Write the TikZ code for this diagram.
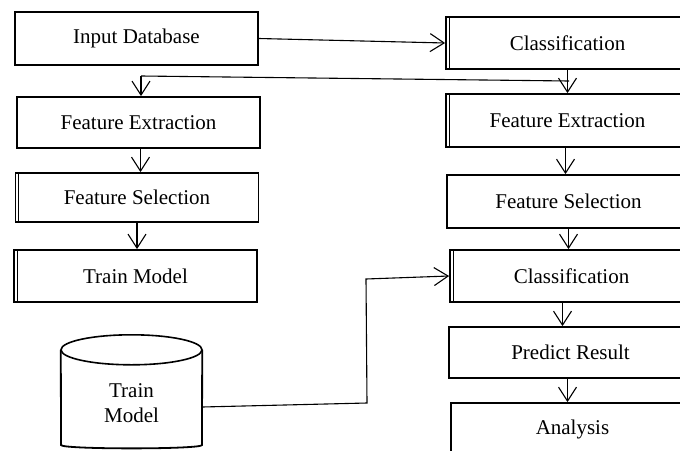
\documentclass[tikz,border=0pt]{standalone}
\usepackage{fontspec}
\setmainfont{Liberation Serif}
\usetikzlibrary{arrows.meta}
\begin{document}
\begin{tikzpicture}[x=1pt,y=-1pt,
  box/.style={draw, line width=1.8pt, fill=white, minimum width=243pt, inner sep=0pt,
    font=\fontsize{21}{25}\selectfont},
  conn/.style={line width=1.1pt},
  arr/.style={conn, -{Straight Barb[length=14pt,width=18pt,line width=1.1pt]}},
  txt/.style={font=\fontsize{21}{25}\selectfont, align=center}]
\path[use as bounding box] (0,0) rectangle (680,450);
\clip (0,0) rectangle (680,450);
% left column
\node[box, minimum height=53pt] (in)  at (136.5,38.5)  {Input Database};
\node[box, minimum height=51pt] (fe1) at (138.5,122.5) {Feature Extraction};
\node[box, minimum height=49pt] (fs1) at (137,197.5)   {Feature Selection};
\node[box, minimum height=52pt] (tm1) at (135.5,276)   {Train Model};
% right column
\node[box, minimum height=52pt] (c1)  at (567.5,43)    {Classification};
\node[box, minimum height=53pt] (fe2) at (567.5,120.5) {Feature Extraction};
\node[box, minimum height=53pt] (fs2) at (568.5,201.5) {Feature Selection};
\node[box, minimum height=52pt] (c2)  at (571.5,276)   {Classification};
\node[box, minimum height=51pt] (pr)  at (570.5,352.5) {Predict Result};
\node[box, minimum height=52pt] (an)  at (572.5,429)   {Analysis};
% inner left lines (double borders)
\foreach \n in {fs1,tm1,c1,fe2,c2} {
  \draw[line width=0.8pt] ([xshift=4pt,yshift=-1pt]\n.north west) -- ([xshift=4pt,yshift=1pt]\n.south west);
}
% database cylinder
\node[minimum width=141pt, minimum height=98pt, inner sep=0pt] (db) at (131.5,399) {};
\draw[line width=1.8pt, fill=white] (db.north west) -- (61,445) .. controls (61,449.5) and (202,449.5) .. (202,445) -- (db.north east);
\draw[line width=1.6pt, fill=white] (db.north) ellipse [x radius=70.5, y radius=15];
\node[txt] (dbt) at (131.5,403) {Train\\Model};
% connectors
\coordinate (j1) at (141,76);
\coordinate (j2) at (569,81);
\coordinate (k1) at (367,403);
\coordinate (k2) at (366,279);
\draw[arr] (in.east) -- (c1.west);
\draw[conn] (j1) -- (j2);
\draw[arr] (j1) -- (j1 |- fe1.north);
\draw[arr] (c1.south) -- (c1.south |- fe2.north);
\draw[arr] ([xshift=2pt]fe1.south) -- ([xshift=2pt]fe1.south |- fs1.north);
\draw[arr] (fs1.south) -- (fs1.south |- tm1.north);
\draw[arr] ([xshift=-2pt]fe2.south) -- ([xshift=-2pt]fe2.south |- fs2.north);
\draw[arr] (fs2.south) -- (fs2.south |- c2.north);
\draw[arr] ([xshift=-9pt]c2.south) -- ([xshift=-9pt]c2.south |- pr.north);
\draw[arr] ([xshift=-3pt]pr.south) -- ([xshift=-3pt]pr.south |- an.north);
\draw[arr] ([yshift=-8pt]db.east) -- (k1) -- (k2) -- (c2.west);
\end{tikzpicture}
\end{document}
